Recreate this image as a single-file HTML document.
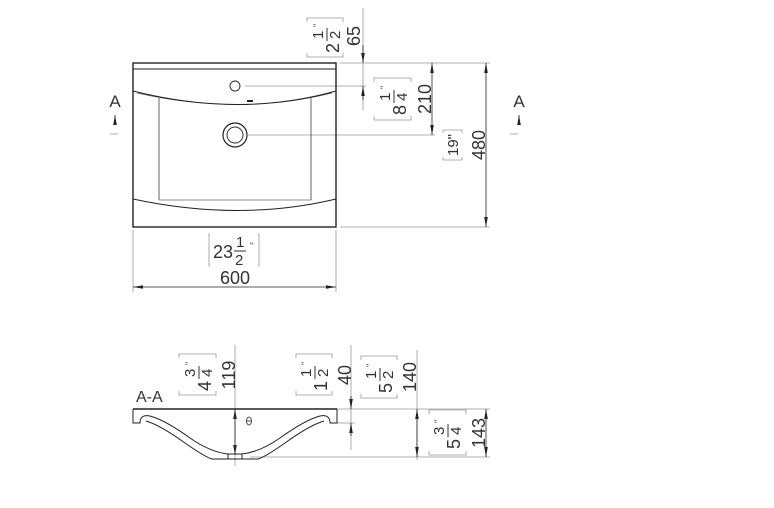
<!DOCTYPE html>
<html><head><meta charset="utf-8"><style>html,body{margin:0;padding:0;background:#fff}svg{display:block}</style></head><body>
<svg width="774" height="508" viewBox="0 0 774 508" xmlns="http://www.w3.org/2000/svg" font-family="Liberation Sans, sans-serif">
<defs>
<marker id="ar" viewBox="0 0 10 10" refX="10" refY="5" markerWidth="10" markerHeight="10" markerUnits="userSpaceOnUse" orient="auto"><path d="M0,3.2 L10,5 L0,6.8 Z" fill="#222"/></marker>
</defs>
<g stroke="#999" stroke-width="0.8" fill="none">
<line x1="363" y1="8" x2="363" y2="110"/>
<line x1="340" y1="63" x2="490" y2="63"/>
<line x1="340" y1="227" x2="490" y2="227"/>
<line x1="245" y1="86" x2="366" y2="86"/>
<line x1="248" y1="135" x2="435" y2="135"/>
<line x1="133" y1="230" x2="133" y2="292"/>
<line x1="336" y1="230" x2="336" y2="292"/>
<line x1="235" y1="345" x2="235" y2="466"/>
<line x1="351" y1="345" x2="351" y2="450"/>
<line x1="337" y1="423" x2="355" y2="423"/>
<line x1="417" y1="350" x2="417" y2="460"/>
<line x1="337" y1="409" x2="490" y2="409"/>
<line x1="250" y1="457" x2="490" y2="457"/>
<path d="M307,22 v-4 h36 v4 M307,53 v4 h36 v-4"/>
<path d="M374,82 v-4 h37 v4 M374,116 v4 h37 v-4"/>
<path d="M443,133 v-3 h19 v3 M443,157 v3 h19 v-3"/>
<path d="M210,234 h-1 v32 h1 M258,234 h1 v32 h-1"/>
<path d="M179,358 v-4 h37 v4 M179,391 v4 h37 v-4"/>
<path d="M296,358 v-4 h36 v4 M296,391 v4 h36 v-4"/>
<path d="M361,360 v-4 h36 v4 M361,394 v4 h36 v-4"/>
<path d="M429,414 v-4 h37 v4 M429,451 v4 h37 v-4"/>
<path d="M110,134 h8"/><path d="M510,134 h8"/>
</g>
<g stroke="#222" stroke-width="0.8" fill="none">
<line x1="363" y1="45" x2="363" y2="63" marker-end="url(#ar)"/>
<line x1="363" y1="100" x2="363" y2="86" marker-end="url(#ar)"/>
<line x1="432" y1="99" x2="432" y2="63" marker-end="url(#ar)"/>
<line x1="432" y1="99" x2="432" y2="135" marker-end="url(#ar)"/>
<line x1="486" y1="145" x2="486" y2="63" marker-end="url(#ar)"/>
<line x1="486" y1="145" x2="486" y2="227" marker-end="url(#ar)"/>
<line x1="235" y1="287" x2="133" y2="287" marker-end="url(#ar)"/>
<line x1="235" y1="287" x2="336" y2="287" marker-end="url(#ar)"/>
<line x1="115" y1="125" x2="115" y2="115" marker-end="url(#ar)"/>
<line x1="519" y1="125" x2="519" y2="115" marker-end="url(#ar)"/>
<line x1="235" y1="432" x2="235" y2="409" marker-end="url(#ar)"/>
<line x1="235" y1="432" x2="235" y2="455" marker-end="url(#ar)"/>
<line x1="351" y1="396" x2="351" y2="409" marker-end="url(#ar)"/>
<line x1="351" y1="436" x2="351" y2="423" marker-end="url(#ar)"/>
<line x1="417" y1="433" x2="417" y2="409" marker-end="url(#ar)"/>
<line x1="417" y1="433" x2="417" y2="457" marker-end="url(#ar)"/>
<line x1="486" y1="433" x2="486" y2="409" marker-end="url(#ar)"/>
<line x1="486" y1="433" x2="486" y2="457" marker-end="url(#ar)"/>
</g>
<g stroke="#222" fill="none">
<rect x="133" y="63" width="203" height="164" stroke-width="1.4"/>
<line x1="133" y1="69" x2="336" y2="69" stroke-width="1"/>
<path d="M133,91 Q240,118 336,91" stroke-width="1"/>
<path d="M137,93 Q240,116 332,93" stroke-width="0.6"/>
<line x1="159" y1="98" x2="159" y2="200" stroke-width="0.7"/>
<line x1="311" y1="98" x2="311" y2="200" stroke-width="0.7"/>
<path d="M133,199 Q240,222 336,199" stroke-width="1"/>
<line x1="159" y1="200" x2="311" y2="200" stroke-width="0.6"/>
<circle cx="235" cy="86" r="5" stroke-width="0.9"/>
<circle cx="235" cy="135" r="12" stroke-width="1.2"/>
<circle cx="235" cy="135" r="8" stroke-width="0.9"/>
<rect x="247" y="100" width="6" height="2" fill="#222" stroke="none"/>
</g>
<g stroke="#222" fill="none" stroke-width="1">
<line x1="133" y1="409" x2="337" y2="409" stroke-width="1.6"/>
<path d="M133,409 V423 H140 Q140,414 150,416 Q165,420 190,438 Q210,452 228,454 H242 Q260,452 280,438 Q305,420 320,416 Q330,414 330,423 H337 V409"/>
<path d="M146,421 Q160,425 185,443 Q205,457 212,459 H258 Q265,457 285,443 Q310,425 324,421"/>
<line x1="228" y1="454" x2="228" y2="459"/><line x1="242" y1="454" x2="242" y2="459"/>
<ellipse cx="249" cy="421" rx="2.5" ry="4" stroke-width="0.8"/>
<line x1="246.5" y1="421" x2="251.5" y2="421" stroke-width="0.8"/>
</g>
<g fill="#333">
<text x="115" y="107" text-anchor="middle" font-size="17">A</text>
<text x="519" y="107" text-anchor="middle" font-size="17">A</text>
<text x="235" y="284" text-anchor="middle" font-size="18">600</text>
<text x="213" y="258" font-size="18">23</text>
<text x="236" y="247" font-size="15">1</text><line x1="234" y1="251" x2="246" y2="251" stroke="#333" stroke-width="1"/>
<text x="235" y="265" font-size="15">2</text><text x="250" y="249" font-size="9">"</text>
<text x="136" y="402" font-size="16">A-A</text>
<g transform="translate(354,36) rotate(-90)"><text x="0" y="6" text-anchor="middle" font-size="18">65</text></g>
<g transform="translate(425,99) rotate(-90)"><text x="0" y="6" text-anchor="middle" font-size="18">210</text></g>
<g transform="translate(479,145) rotate(-90)"><text x="0" y="6" text-anchor="middle" font-size="18">480</text></g>
<g transform="translate(453,145) rotate(-90)"><text x="0" y="5" text-anchor="middle" font-size="15">19"</text></g>
<g transform="translate(229,375) rotate(-90)"><text x="0" y="6" text-anchor="middle" font-size="18">119</text></g>
<g transform="translate(345,375) rotate(-90)"><text x="0" y="6" text-anchor="middle" font-size="18">40</text></g>
<g transform="translate(410,377) rotate(-90)"><text x="0" y="6" text-anchor="middle" font-size="18">140</text></g>
<g transform="translate(479,433) rotate(-90)"><text x="0" y="6" text-anchor="middle" font-size="18">143</text></g>
<g transform="translate(326,37) rotate(-90)"><text x="-16" y="13" font-size="18">2</text><text x="-2" y="-3" font-size="15">1</text><line x1="-4" y1="1" x2="9" y2="1" stroke="#333" stroke-width="1"/><text x="-2" y="14" font-size="15">2</text><text x="10" y="-6" font-size="9">"</text></g>
<g transform="translate(393,99) rotate(-90)"><text x="-16" y="13" font-size="18">8</text><text x="-2" y="-3" font-size="15">1</text><line x1="-4" y1="1" x2="9" y2="1" stroke="#333" stroke-width="1"/><text x="-2" y="14" font-size="15">4</text><text x="10" y="-6" font-size="9">"</text></g>
<g transform="translate(198,375) rotate(-90)"><text x="-16" y="13" font-size="18">4</text><text x="-2" y="-3" font-size="15">3</text><line x1="-4" y1="1" x2="9" y2="1" stroke="#333" stroke-width="1"/><text x="-2" y="14" font-size="15">4</text><text x="10" y="-6" font-size="9">"</text></g>
<g transform="translate(314,375) rotate(-90)"><text x="-16" y="13" font-size="18">1</text><text x="-2" y="-3" font-size="15">1</text><line x1="-4" y1="1" x2="9" y2="1" stroke="#333" stroke-width="1"/><text x="-2" y="14" font-size="15">2</text><text x="10" y="-6" font-size="9">"</text></g>
<g transform="translate(379,377) rotate(-90)"><text x="-16" y="13" font-size="18">5</text><text x="-2" y="-3" font-size="15">1</text><line x1="-4" y1="1" x2="9" y2="1" stroke="#333" stroke-width="1"/><text x="-2" y="14" font-size="15">2</text><text x="10" y="-6" font-size="9">"</text></g>
<g transform="translate(447,433) rotate(-90)"><text x="-16" y="13" font-size="18">5</text><text x="-2" y="-3" font-size="15">3</text><line x1="-4" y1="1" x2="9" y2="1" stroke="#333" stroke-width="1"/><text x="-2" y="14" font-size="15">4</text><text x="10" y="-6" font-size="9">"</text></g>
</g>
</svg>
</body></html>
